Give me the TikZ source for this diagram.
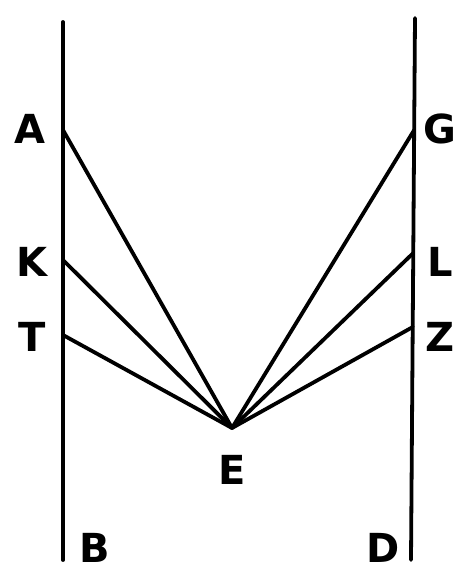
\documentclass[tikz,border=0pt]{standalone}
\usepackage{fontspec}
\setmainfont{DejaVu Sans}
\begin{document}
\begin{tikzpicture}[x=1pt,y=-1pt,
  ln/.style={line width=3.8pt,line cap=round,line join=round},
  lbl/.style={font=\fontsize{40}{40}\selectfont\bfseries,inner sep=0pt}]
\useasboundingbox (0,0) rectangle (464,573);
% vertical lines
\coordinate (lt) at (63,22);
\coordinate (lb) at (63,560);
\coordinate (rt) at (415,18);
\coordinate (rb) at (411,560);
\draw[ln] (lt) -- (lb);
\draw[ln] (rt) -- (rb);
% points
\coordinate (A) at (63,130);
\coordinate (K) at (63,260);
\coordinate (T) at (63,335);
\coordinate (G) at (414.2,130);
\coordinate (L) at (413.3,253);
\coordinate (Z) at (412.8,327);
\coordinate (E) at (232,428);
\draw[ln] (A) -- (E) -- (G);
\draw[ln] (K) -- (E) -- (L);
\draw[ln] (T) -- (E) -- (Z);
% labels
\node[lbl] (lA) at (30,129) {A};
\node[lbl] (lK) at (32,262) {K};
\node[lbl] (lT) at (32,337) {T};
\node[lbl] (lG) at (440,129) {G};
\node[lbl] (lL) at (440,262) {L};
\node[lbl] (lZ) at (440,337) {Z};
\node[lbl] (lE) at (232,470) {E};
\node[lbl] (lB) at (95,548) {B};
\node[lbl] (lD) at (383,548) {D};
\end{tikzpicture}
\end{document}
